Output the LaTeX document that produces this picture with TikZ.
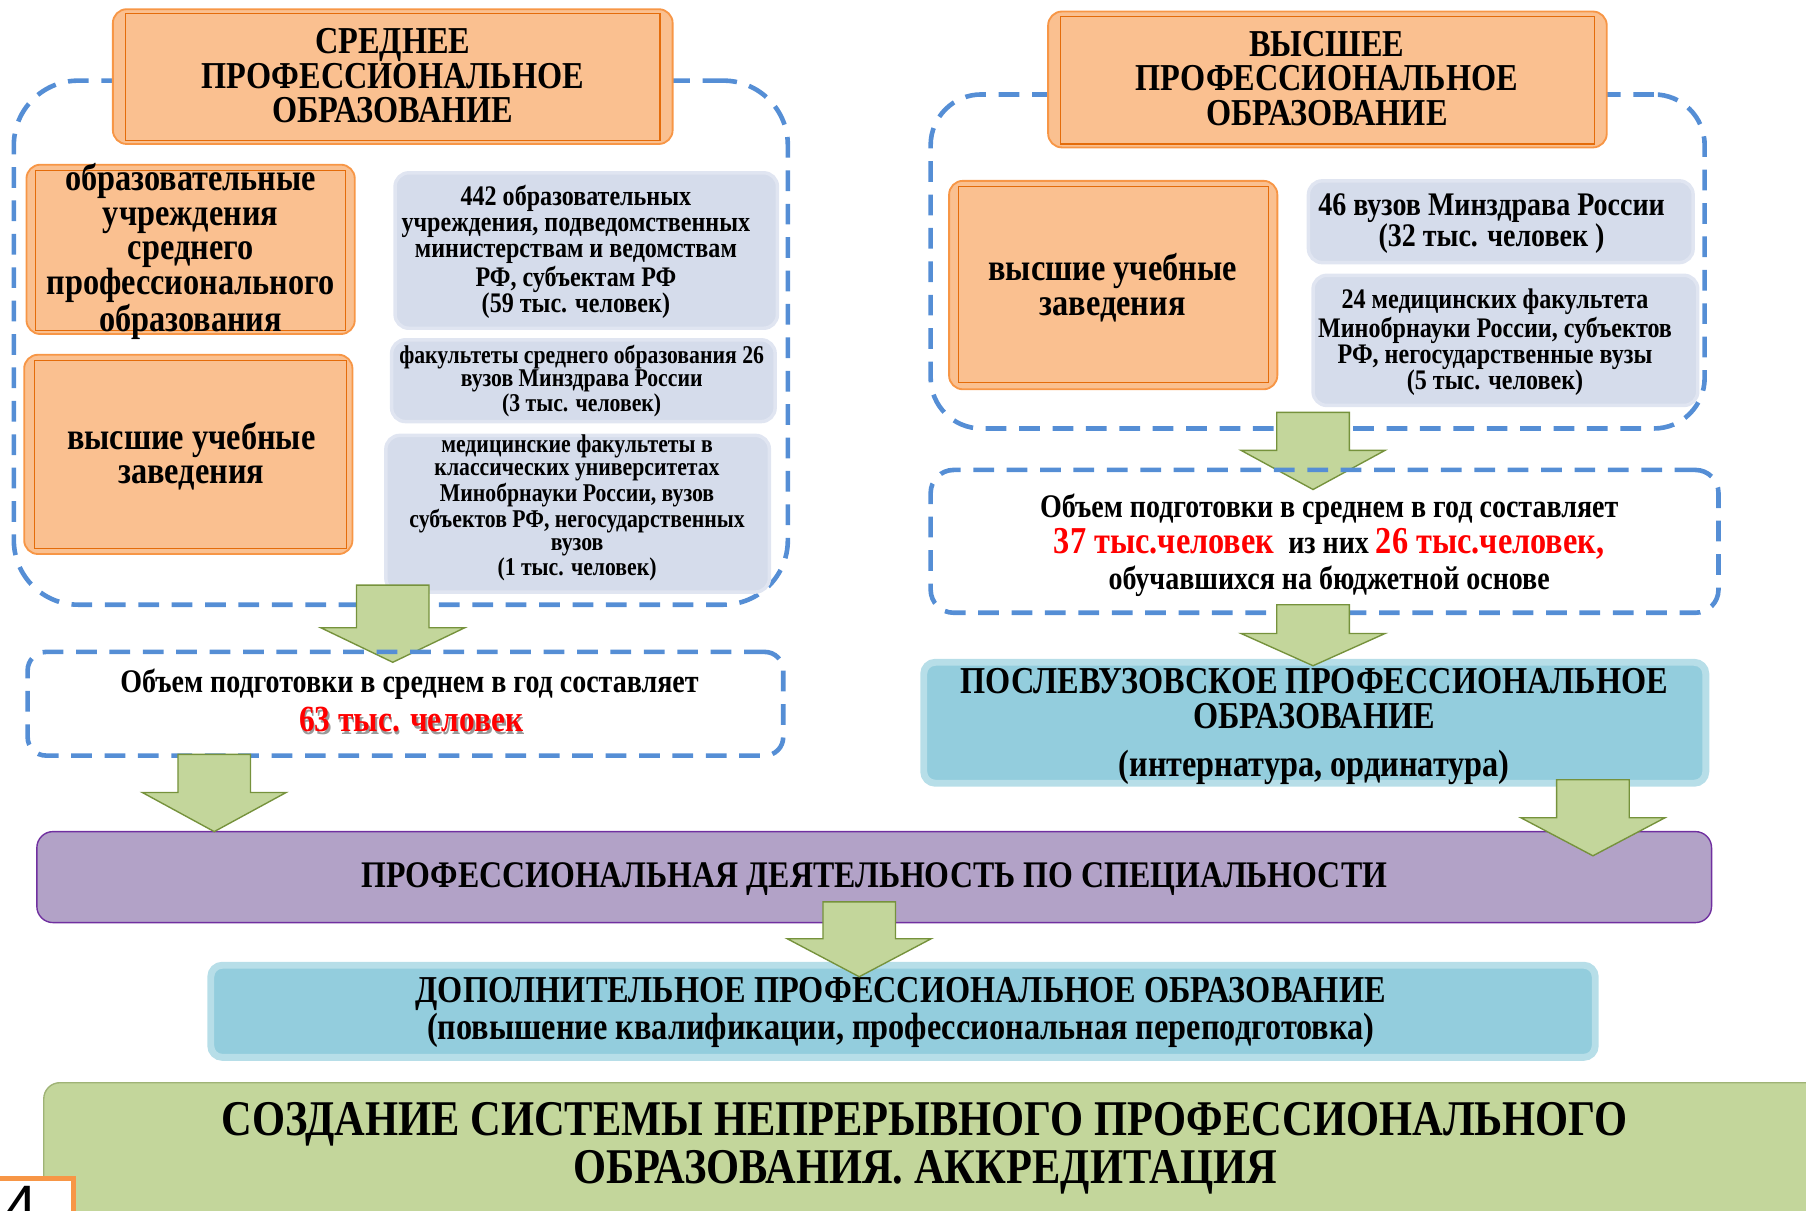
\documentclass[tikz,border=0pt]{standalone}
\usepackage{fontspec}
\setmainfont{Liberation Serif}[FakeStretch=0.85]
\newfontfamily\sansf{Liberation Sans}
\definecolor{dashblue}{RGB}{85,142,213}
\definecolor{orfill}{RGB}{250,192,144}
\definecolor{ordraw}{RGB}{247,150,70}
\definecolor{orinner}{RGB}{228,108,10}
\definecolor{grfill}{RGB}{213,220,235}
\definecolor{grdraw}{RGB}{224,229,241}
\definecolor{cyfill}{RGB}{147,205,221}
\definecolor{cydraw}{RGB}{183,222,232}
\definecolor{pufill}{RGB}{178,162,199}
\definecolor{pudraw}{RGB}{112,48,160}
\definecolor{gnfill}{RGB}{195,214,155}
\definecolor{gndraw}{RGB}{118,146,60}
\newcommand\fs[2]{\fontsize{#1}{#2}\selectfont}
\newcommand\garrow[4]{% cx top base tip
  \draw[arrsty] ({#1-31.5},#2) -- ({#1+31.5},#2) -- ({#1+31.5},#3) -- ({#1+62.5},#3) -- (#1,#4) -- ({#1-62.5},#3) -- ({#1-31.5},#3) -- cycle;}
\begin{document}
\begin{tikzpicture}[x=0.5pt,y=-0.5pt,
  every node/.style={inner sep=0pt, outer sep=0pt},
  dashbox/.style={draw=dashblue, line width=2pt, dash pattern=on 9pt off 5.5pt},
  orbox/.style={draw=ordraw, fill=orfill, line width=0.8pt, rounded corners=6pt},
  orin/.style={draw=orinner, line width=0.5pt},
  grbox/.style={draw=grdraw, fill=grfill, line width=1.5pt, rounded corners=6pt},
  cybox/.style={draw=cydraw, fill=cyfill, line width=3pt, rounded corners=5pt},
  pubox/.style={draw=pudraw, fill=pufill, line width=0.6pt, rounded corners=7pt},
  gnbox/.style={draw=gndraw!70, fill=gnfill, line width=0.6pt, rounded corners=7pt},
  arrsty/.style={draw=gndraw, fill=gnfill, line width=0.6pt},
  txt/.style={align=center},
  redtxt/.style={text=red},
  shad/.style={text=black!40}
]
\useasboundingbox (0,0) rectangle (1568,1051);
\clip (0,0) rectangle (1568,1051);

% ---------- bottom boxes ----------
\node[pubox, minimum width=727pt, minimum height=39.5pt] (prof) at (759,761.5) {};
\node[txt, font={\bfseries\fs{16.3}{16}}] (proft) at (759,763) {ПРОФЕССИОНАЛЬНАЯ ДЕЯТЕЛЬНОСТЬ ПО СПЕЦИАЛЬНОСТИ};

\node[cybox, minimum width=601pt, minimum height=40pt] (dpo) at (784,878) {};
\node[txt, font={\bfseries\fs{16.5}{16}}] (dpot) at (782,879) {ДОПОЛНИТЕЛЬНОЕ ПРОФЕССИОНАЛЬНОЕ ОБРАЗОВАНИЕ\\(повышение квалификации, профессиональная переподготовка)};

\node[gnbox, minimum width=780pt, minimum height=70pt] (green) at (818,1010) {};
\node[txt, font={\bfseries\fs{21.7}{20.5}}] (greent) at (803,997) {СОЗДАНИЕ СИСТЕМЫ НЕПРЕРЫВНОГО ПРОФЕССИОНАЛЬНОГО\\ОБРАЗОВАНИЯ. АККРЕДИТАЦИЯ};

\node[draw=ordraw, fill=white, line width=2pt, minimum width=34.5pt, minimum height=18.5pt] (pgbox) at (29.5,1041.5) {};
\node[anchor=north west, font={\sansf\fs{26}{26}}] (pg) at (4,1030) {4};

% ---------- left column ----------
\node[dashbox, rounded corners=28pt, minimum width=336pt, minimum height=227.5pt] (lcont) at (348,297.5) {};

\node[orbox, minimum width=243pt, minimum height=58.5pt] (ltitle) at (341,66.5) {};
\draw[orin] ([shift={(11,4)}]ltitle.north west) rectangle ([shift={(-11,-3)}]ltitle.south east);
\node[txt, font={\bfseries\fs{16.5}{15}}] (ltitlet) at (341,66) {СРЕДНЕЕ\\ПРОФЕССИОНАЛЬНОЕ\\ОБРАЗОВАНИЕ};

\node[orbox, minimum width=142.5pt, minimum height=73.5pt] (lb1) at (165.5,216.5) {};
\draw[orin] ([shift={(8,5)}]lb1.north west) rectangle ([shift={(-8,-3)}]lb1.south east);
\node[txt, font={\bfseries\fs{16.5}{15}}] (lb1t) at (165.5,218.5) {образовательные\\учреждения\\среднего\\профессионального\\образования};

\node[orbox, minimum width=142.5pt, minimum height=86.5pt] (lb2) at (163.5,394.5) {};
\draw[orin] ([shift={(9,5)}]lb2.north west) rectangle ([shift={(-5,-5)}]lb2.south east);
\node[txt, font={\bfseries\fs{16.5}{15}}] (lb2t) at (166,396) {высшие учебные\\заведения};

\node[grbox, minimum width=166pt, minimum height=67.5pt] (ga) at (509,217.5) {};
\node[txt, font={\bfseries\fs{12.3}{11.35}}] (gat) at (500,218.5) {442 образовательных\\учреждения, подведомственных\\министерствам и ведомствам\\РФ, субъектам РФ\\(59 тыс. человек)};

\node[grbox, minimum width=166.5pt, minimum height=35.5pt] (gb) at (506.5,330.5) {};
\node[txt, font={\bfseries\fs{11.1}{10}}] (gbt) at (505,331) {факультеты среднего образования 26\\вузов Минздрава России\\(3 тыс. человек)};

\node[grbox, minimum width=166.5pt, minimum height=68pt] (gc) at (501.5,446) {};
\node[txt, font={\bfseries\fs{11.1}{9.8}}] (gct) at (501,441) {медицинские факультеты в\\классических университетах\\Минобрнауки России, вузов\\субъектов РФ, негосударственных\\вузов\\(1 тыс. человек)};

\garrow{341}{508}{545}{575}

\node[dashbox, rounded corners=8pt, minimum width=328pt, minimum height=45pt] (lvol) at (352,611) {};
\node[txt, font={\bfseries\fs{14.3}{15.5}}] (lvol1) at (355.5,594) {Объем подготовки в среднем в год составляет};
\node[shad, font={\bfseries\fs{16}{16}}] (lvol2s) at (358.5,627) {63 тыс. человек};
\node[redtxt, font={\bfseries\fs{16}{16}}] (lvol2) at (357,625) {63 тыс. человек};

\garrow{186}{655}{688}{722}

% ---------- right column ----------
\node[dashbox, rounded corners=22pt, minimum width=336pt, minimum height=145pt] (rcont) at (1144,227) {};

\node[orbox, minimum width=242.5pt, minimum height=59pt] (rtitle) at (1152.5,69) {};
\draw[orin] ([shift={(11,4)}]rtitle.north west) rectangle ([shift={(-11,-3)}]rtitle.south east);
\node[txt, font={\bfseries\fs{16.5}{15}}] (rtitlet) at (1152,68) {ВЫСШЕЕ\\ПРОФЕССИОНАЛЬНОЕ\\ОБРАЗОВАНИЕ};

\node[orbox, minimum width=142.5pt, minimum height=90.5pt] (rb) at (966.5,247.5) {};
\draw[orin] ([shift={(8,5)}]rb.north west) rectangle ([shift={(-8,-6)}]rb.south east);
\node[txt, font={\bfseries\fs{16.5}{15}}] (rbt) at (966,250) {высшие учебные\\заведения};

\node[grbox, minimum width=167pt, minimum height=35.5pt] (gd) at (1303,192.5) {};
\node[txt, font={\bfseries\fs{14.3}{13.5}}] (gdt) at (1295,194.5) {46 вузов Минздрава России\\(32 тыс. человек )};

\node[grbox, minimum width=167pt, minimum height=56.5pt] (ge) at (1307,295.5) {};
\node[txt, font={\bfseries\fs{12.3}{11.35}}] (get) at (1298,297) {24 медицинских факультета\\Минобрнауки России, субъектов\\РФ, негосударственные вузы\\(5 тыс. человек)};

\garrow{1140}{358}{391}{425}

\node[dashbox, rounded corners=10pt, minimum width=342pt, minimum height=62pt] (rvol) at (1150,470) {};
\node[txt, font={\bfseries\fs{14.3}{15.75}}] (rvolt) at (1154,473.5) {Объем подготовки в среднем в год составляет\\{\fs{16.5}{15.75}\color{red}37 тыс.человек}\ \ из них {\fs{16.5}{15.75}\color{red}26 тыс.человек,}\\обучавшихся на бюджетной основе};

\node[cybox, minimum width=339.5pt, minimum height=52.5pt] (post) at (1141.5,627.5) {};
\node[txt, font={\bfseries\fs{16.5}{15}}] (postt) at (1141,631) {ПОСЛЕВУЗОВСКОЕ ПРОФЕССИОНАЛЬНОЕ\\ОБРАЗОВАНИЕ\\[6pt](интернатура, ординатура)};

\garrow{1140}{525}{550}{578}
\garrow{1383}{677}{710}{743}
\garrow{746}{783}{815}{848}
\end{tikzpicture}
\end{document}
